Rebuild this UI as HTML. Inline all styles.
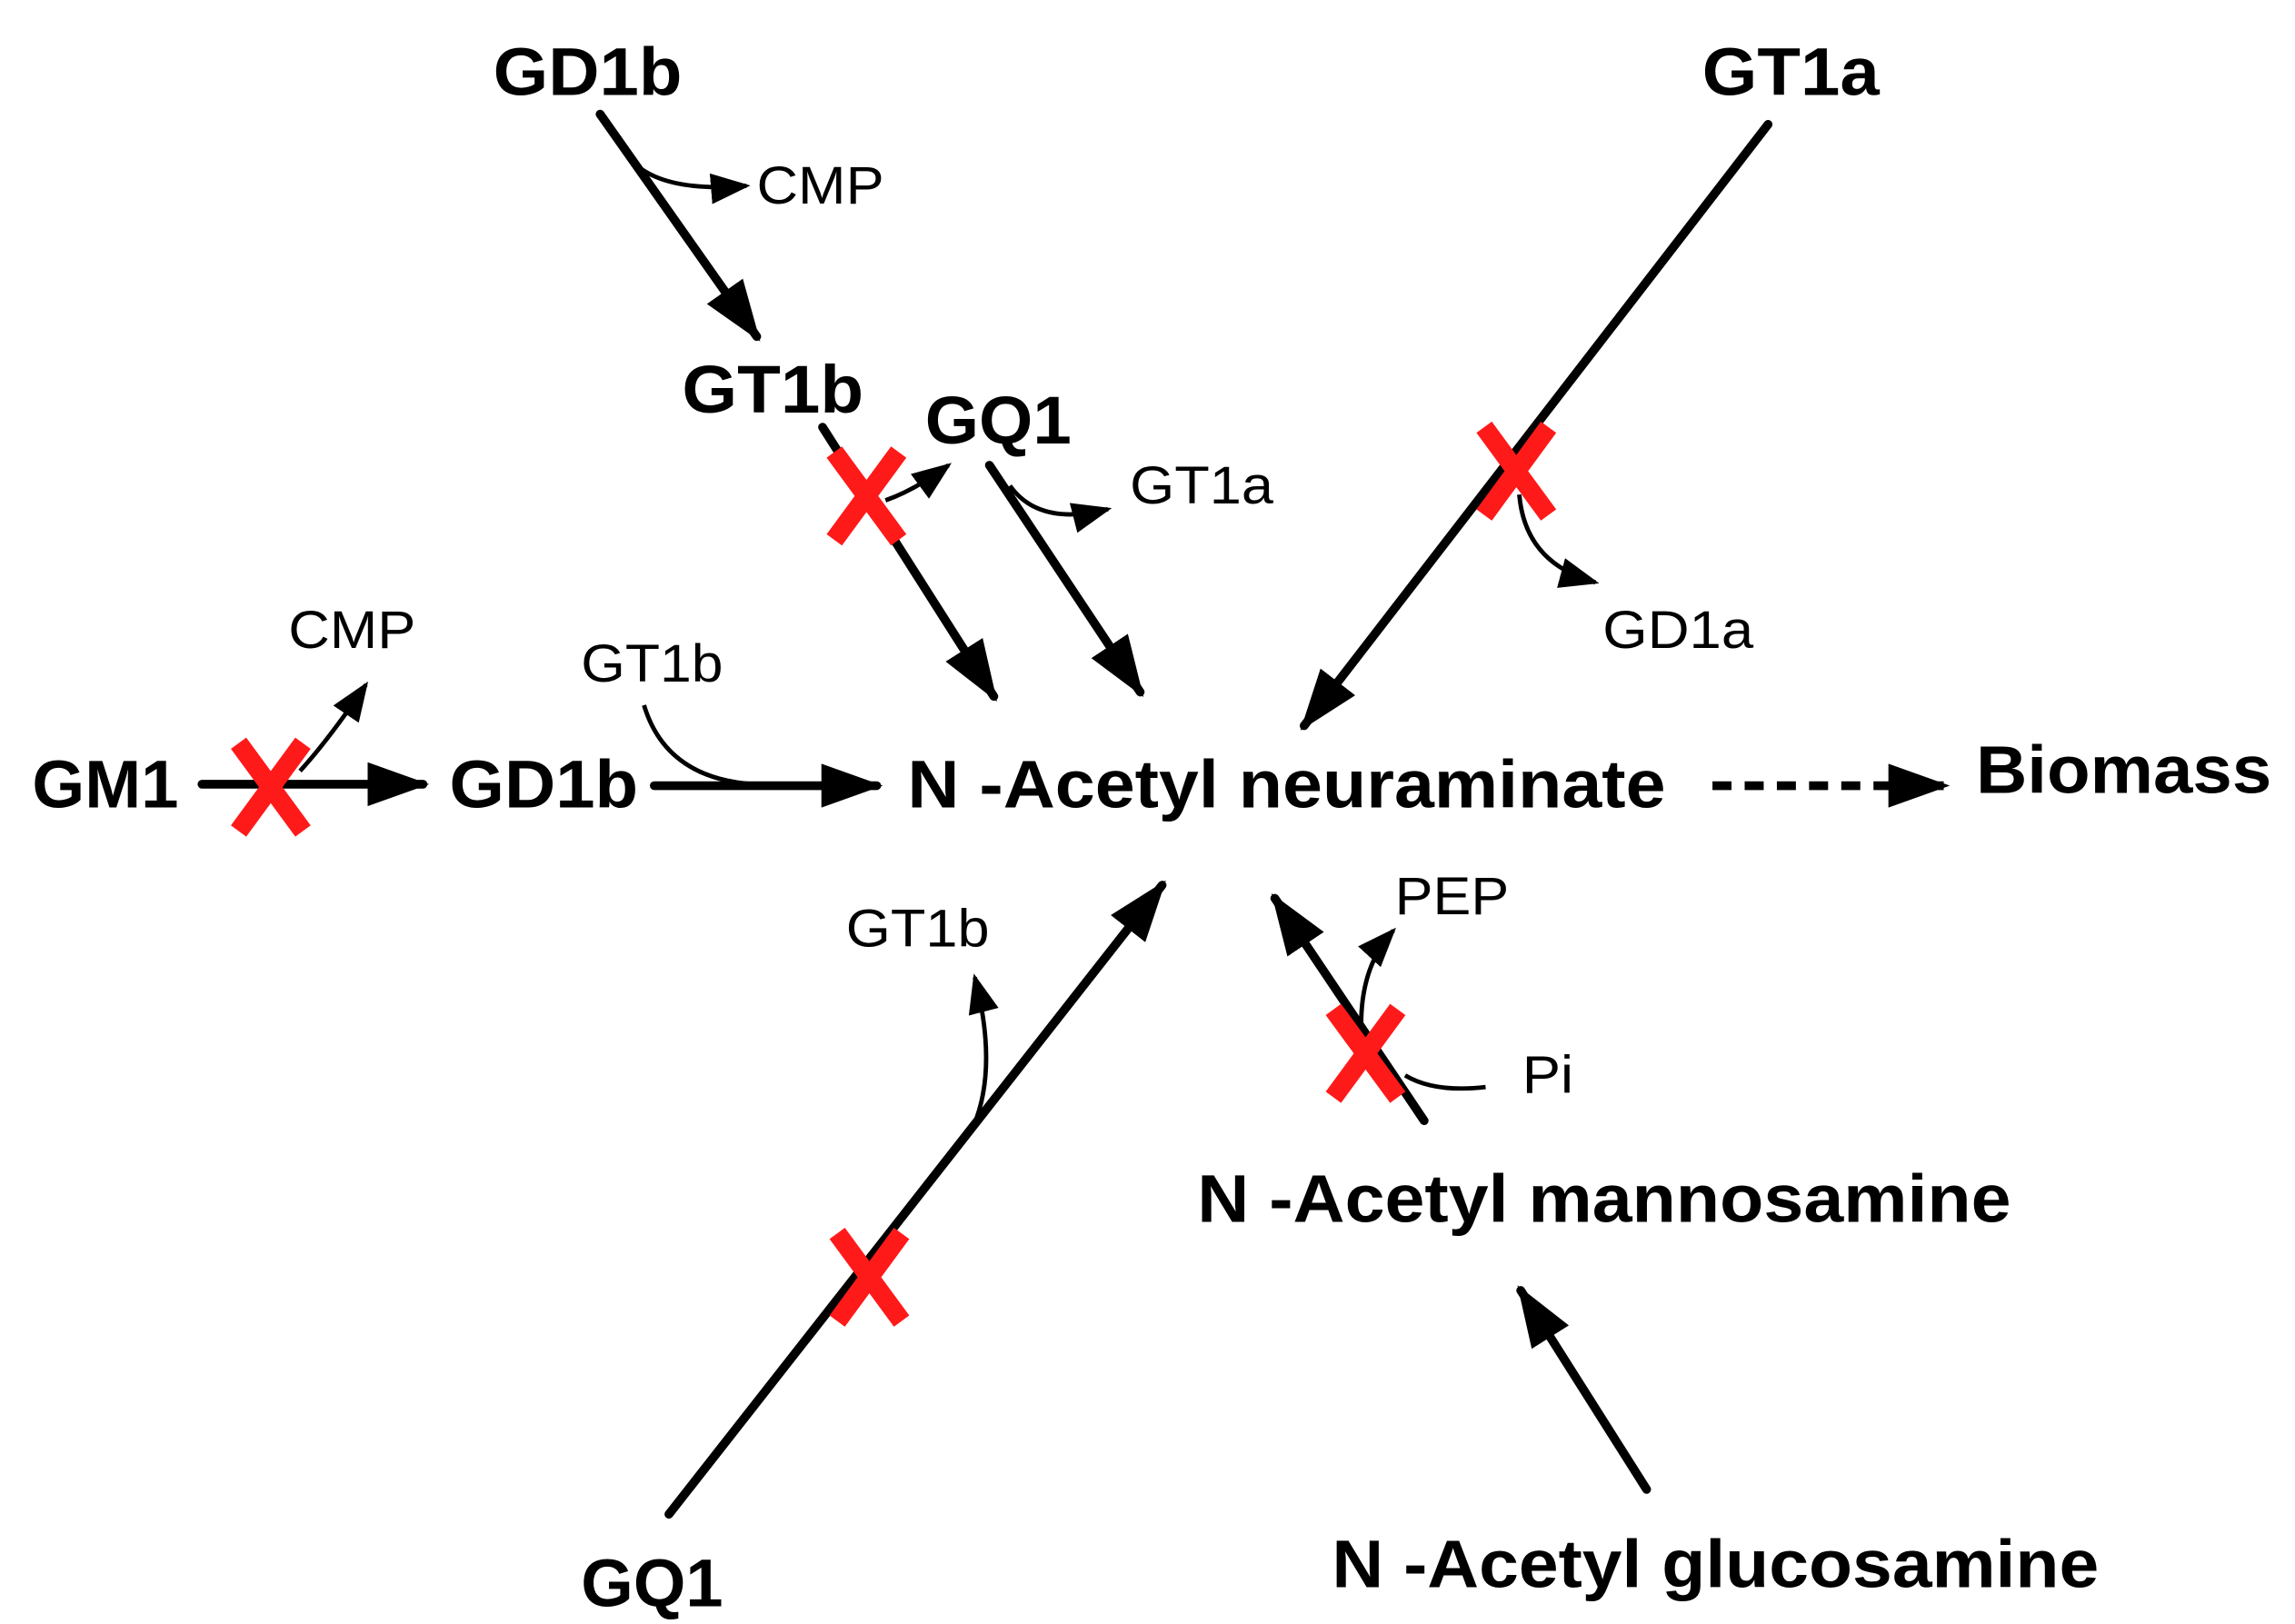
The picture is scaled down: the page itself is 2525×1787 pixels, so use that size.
<!DOCTYPE html>
<html><head><meta charset="utf-8"><style>html,body{margin:0;padding:0;background:#fff}svg{display:block}</style></head><body>
<svg width="2525" height="1787" viewBox="0 0 1568 1110" preserveAspectRatio="none" xmlns="http://www.w3.org/2000/svg">
<defs>
<marker id="a" viewBox="0 0 10 10" refX="9" refY="5" markerWidth="7" markerHeight="5" markerUnits="strokeWidth" orient="auto" preserveAspectRatio="none"><path d="M0,0 L10,5 L0,10 z" fill="#000"/></marker>
<marker id="s" viewBox="0 0 10 10" refX="9" refY="5" markerWidth="9" markerHeight="7" markerUnits="strokeWidth" orient="auto" preserveAspectRatio="none"><path d="M0,0 L10,5 L0,10 z" fill="#000"/></marker>
<g id="x"><path d="M-22,-30 L22,30 M22,-30 L-22,30" stroke="#ff1a1a" stroke-width="13"/></g>
</defs>
<g font-family="Liberation Sans, Arial, sans-serif" font-weight="bold" font-size="46" fill="#000">
<text x="337" y="65" textLength="129" lengthAdjust="spacingAndGlyphs">GD1b</text>
<text x="1163" y="65" textLength="121" lengthAdjust="spacingAndGlyphs">GT1a</text>
<text x="466" y="282" textLength="124" lengthAdjust="spacingAndGlyphs">GT1b</text>
<text x="632" y="303" textLength="100" lengthAdjust="spacingAndGlyphs">GQ1</text>
<text x="22" y="552" textLength="100" lengthAdjust="spacingAndGlyphs">GM1</text>
<text x="307" y="552" textLength="129" lengthAdjust="spacingAndGlyphs">GD1b</text>
<text x="620" y="552" textLength="518" lengthAdjust="spacingAndGlyphs">N -Acetyl neuraminate</text>
<text x="1350" y="542" textLength="202" lengthAdjust="spacingAndGlyphs">Biomass</text>
<text x="818" y="835" textLength="556" lengthAdjust="spacingAndGlyphs">N -Acetyl mannosamine</text>
<text x="910" y="1085" textLength="524" lengthAdjust="spacingAndGlyphs">N -Acetyl glucosamine</text>
<text x="397" y="1098" textLength="97" lengthAdjust="spacingAndGlyphs">GQ1</text>
</g>
<g font-family="Liberation Sans, Arial, sans-serif" font-size="36" fill="#000">
<text x="517" y="139" textLength="87" lengthAdjust="spacingAndGlyphs">CMP</text>
<text x="772" y="344" textLength="98" lengthAdjust="spacingAndGlyphs">GT1a</text>
<text x="1095" y="443" textLength="103" lengthAdjust="spacingAndGlyphs">GD1a</text>
<text x="197" y="443" textLength="87" lengthAdjust="spacingAndGlyphs">CMP</text>
<text x="397" y="466" textLength="97" lengthAdjust="spacingAndGlyphs">GT1b</text>
<text x="578" y="647" textLength="98" lengthAdjust="spacingAndGlyphs">GT1b</text>
<text x="953" y="625" textLength="78" lengthAdjust="spacingAndGlyphs">PEP</text>
<text x="1040" y="747" textLength="35" lengthAdjust="spacingAndGlyphs">Pi</text>
</g>
<g stroke="#000" stroke-width="6" fill="none" stroke-linecap="round">
<line x1="410" y1="78" x2="517" y2="230" marker-end="url(#a)"/>
<line x1="562" y1="292" x2="679" y2="476" marker-end="url(#a)"/>
<line x1="676" y1="318" x2="779" y2="473" marker-end="url(#a)"/>
<line x1="1208" y1="85" x2="891" y2="496" marker-end="url(#a)"/>
<line x1="138" y1="536" x2="289" y2="536" marker-end="url(#a)"/>
<line x1="447" y1="537" x2="599" y2="537" marker-end="url(#a)"/>
<line x1="1170" y1="537" x2="1328" y2="537" stroke-dasharray="13,9" stroke-linecap="butt" marker-end="url(#a)"/>
<line x1="457" y1="1035" x2="794" y2="605" marker-end="url(#a)"/>
<line x1="973" y1="766" x2="871" y2="614" marker-end="url(#a)"/>
<line x1="1125" y1="1018" x2="1039" y2="882" marker-end="url(#a)"/>
</g>
<g stroke="#000" stroke-width="3" fill="none">
<path d="M430,108 Q450,132 510,127" marker-end="url(#s)"/>
<path d="M605,342 Q625,335 648,318" marker-end="url(#s)"/>
<path d="M690,332 Q710,360 757,348" marker-end="url(#s)"/>
<path d="M1038,338 Q1042,385 1090,398" marker-end="url(#s)"/>
<path d="M205,527 Q225,505 250,468" marker-end="url(#s)"/>
<path d="M440,482 Q455,532 515,536"/>
<path d="M665,770 Q682,730 666,668" marker-end="url(#s)"/>
<path d="M930,700 Q930,660 952,636" marker-end="url(#s)"/>
<path d="M1015,743 Q980,747 960,735"/>
</g>
<use href="#x" x="185" y="538"/>
<use href="#x" x="592" y="339"/>
<use href="#x" x="1036" y="322"/>
<use href="#x" x="594" y="873"/>
<use href="#x" x="933" y="720"/>
</svg>
</body></html>
